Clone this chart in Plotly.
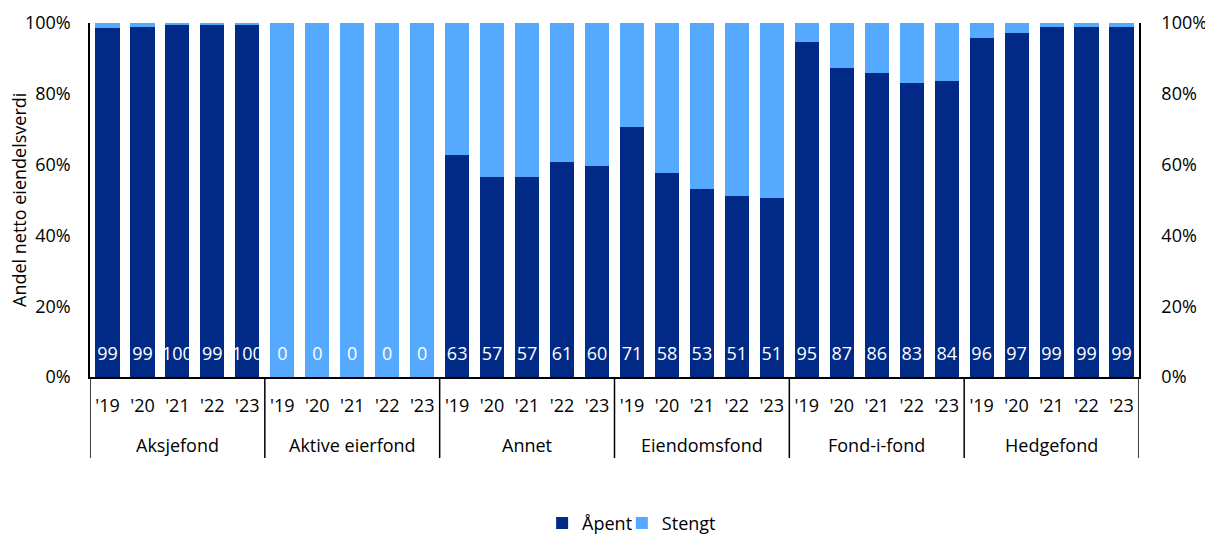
import plotly.graph_objects as go

# Fund categories and reporting years
groups = ["Aksjefond", "Aktive eierfond", "Annet", "Eiendomsfond", "Fond-i-fond", "Hedgefond"]
years = ["'19", "'20", "'21", "'22", "'23"]

# Share of net asset value (%) in open-ended funds, per group and year
apent_aksjefond = [98.7, 98.8, 99.5, 99.3, 99.7]
apent_aktive = [0, 0, 0, 0, 0]
apent_annet = [62.7, 56.6, 56.6, 60.6, 59.7]
apent_eiendom = [70.6, 57.6, 53.0, 51.0, 50.7]
apent_fif = [94.7, 87.3, 86.0, 83.0, 83.7]
apent_hedge = [95.8, 97.2, 99.0, 99.0, 99.0]

# Axis tick values (%)
pct_ticks = [0, 20, 40, 60, 80, 100]

apent = (apent_aksjefond + apent_aktive + apent_annet
         + apent_eiendom + apent_fif + apent_hedge)
stengt = [100 - v for v in apent]

n_years = len(years)
xi = list(range(len(groups) * n_years))
year_text = [y for _ in groups for y in years]

DARK = "#002a86"
LIGHT = "#55a9ff"
FONT = "Open Sans"
FS = 18

fig = go.Figure()
fig.add_trace(go.Bar(x=xi, y=apent, name="Åpent", marker_color=DARK,
                     marker_line_width=0, legend="legend"))
fig.add_trace(go.Bar(x=xi, y=stengt, name="Stengt", marker_color=LIGHT,
                     marker_line_width=0, legend="legend2"))

# Value labels placed near the base of each bar
fig.add_trace(go.Scatter(
    x=xi, y=[6.2] * len(apent), mode="text",
    text=[f"{v:.0f}" for v in apent],
    textfont=dict(color="white", size=FS, family=FONT),
    showlegend=False, hoverinfo="skip", cliponaxis=False))

# Invisible trace that carries the right-hand axis
fig.add_trace(go.Scatter(x=xi, y=[None] * len(apent), yaxis="y2",
                         showlegend=False, hoverinfo="skip"))

# Group labels and divider lines below the year labels
shapes = []
annotations = []
for k, g in enumerate(groups):
    annotations.append(dict(
        x=k * n_years + (n_years - 1) / 2, y=-0.192, xref="x", yref="paper",
        text=g, showarrow=False, font=dict(size=FS, family=FONT, color="#000"),
        xanchor="center", yanchor="middle"))
for k in range(len(groups) + 1):
    shapes.append(dict(
        type="line", xref="x", yref="paper",
        x0=k * n_years - 0.5, x1=k * n_years - 0.5, y0=0, y1=-0.229,
        line=dict(color="#000", width=1.5)))

# Left axis title
annotations.append(dict(
    x=0, y=0.5, xref="paper", yref="paper", xshift=-71,
    text="Andel netto eiendelsverdi", textangle=-90, showarrow=False,
    font=dict(size=FS, family=FONT, color="#000"),
    xanchor="center", yanchor="middle"))

pct_text = [f"{v}%" for v in pct_ticks]

legend_style = dict(orientation="h", xanchor="left", yref="container",
                    y=0.02, yanchor="middle", font=dict(size=FS),
                    itemwidth=30, bgcolor="rgba(0,0,0,0)")

fig.update_layout(
    barmode="stack",
    bargap=0.31,
    width=1205, height=534,
    margin=dict(l=90, r=66, t=23, b=157, autoexpand=False),
    paper_bgcolor="white", plot_bgcolor="white",
    font=dict(family=FONT, size=FS, color="#000"),
    legend=dict(x=0.431, **legend_style),
    legend2=dict(x=0.507, **legend_style),
    xaxis=dict(range=[-0.5, len(xi) - 0.5], tickvals=xi, ticktext=year_text,
               showline=True, linecolor="#000", linewidth=1.5,
               showgrid=False, ticks="", zeroline=False, automargin=False,
               ticklabelstandoff=12, tickfont=dict(size=FS)),
    yaxis=dict(range=[0, 100], tickvals=pct_ticks, ticktext=pct_text,
               showgrid=False, showline=True, linecolor="#000",
               linewidth=1.5, ticks="", zeroline=False, automargin=False,
               ticklabelstandoff=14),
    yaxis2=dict(range=[0, 100], tickvals=pct_ticks, ticktext=pct_text,
                overlaying="y", side="right", showgrid=False, showline=True,
                linecolor="#000", linewidth=1.5, ticks="", zeroline=False,
                automargin=False, ticklabelstandoff=17),
    shapes=shapes,
    annotations=annotations,
)

fig.write_html("out.html")
